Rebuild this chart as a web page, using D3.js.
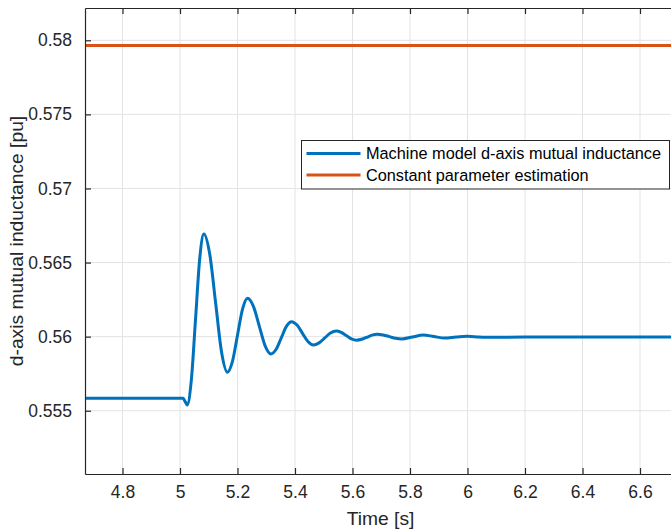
<!DOCTYPE html>
<html>
<head>
<meta charset="utf-8">
<script src="https://cdn.jsdelivr.net/npm/d3@7/dist/d3.min.js"></script>
<style>
html,body{margin:0;padding:0;background:#fff;}
svg{display:block;font-family:"Liberation Sans",Arial,Helvetica,sans-serif;}
</style>
</head>
<body>
<svg id="chart" width="671" height="532"></svg>
<script>
// ---- data ----
const xTicks = [4.8, 5, 5.2, 5.4, 5.6, 5.8, 6, 6.2, 6.4, 6.6];
const yTicks = [0.555, 0.56, 0.565, 0.57, 0.575, 0.58];
const xTickLabels = ["4.8","5","5.2","5.4","5.6","5.8","6","6.2","6.4","6.6"];
const yTickLabels = ["0.555","0.56","0.565","0.57","0.575","0.58"];
const seriesNames = ["Machine model d-axis mutual inductance", "Constant parameter estimation"];
const modelTime = [4.67, 5.0, 5.011, 5.018, 5.025, 5.0395, 5.054, 5.0685, 5.083,
  5.1035, 5.124, 5.1445, 5.165, 5.1825, 5.2, 5.2175, 5.235,
  5.2554, 5.2758, 5.2961, 5.3165, 5.3344, 5.3523, 5.3701, 5.388,
  5.407, 5.426, 5.445, 5.464, 5.4838, 5.5035, 5.5233, 5.543,
  5.5608, 5.5785, 5.5963, 5.614, 5.632, 5.65, 5.668, 5.686,
  5.7073, 5.7285, 5.7498, 5.771, 5.8085, 5.846, 5.883, 5.92, 5.96, 6.0, 6.04, 6.08, 6.2, 6.73];
const modelValue = [0.55584, 0.55584, 0.55584, 0.555615, 0.55539, 0.55708, 0.56116, 0.56524, 0.56693,
  0.56556, 0.56227, 0.55897, 0.55760, 0.55833, 0.56010, 0.56186, 0.56259,
  0.56204, 0.56071, 0.55938, 0.55883, 0.55915, 0.55992, 0.56069, 0.56101,
  0.56078, 0.560225, 0.55967, 0.55944, 0.55958, 0.55991, 0.56024, 0.56038,
  0.56029, 0.56007, 0.55985, 0.55976, 0.55982, 0.55996, 0.56010, 0.56016,
  0.56011, 0.56000, 0.55989, 0.55984, 0.559975, 0.56011, 0.56001, 0.55991, 0.55997, 0.56002, 0.55998, 0.55996, 0.55997, 0.55997];
const constTime = [4.67, 6.73];
const constValue = [0.57965, 0.57965];

// ---- layout ----
const svg = d3.select("#chart");
const L = 85, T = 8, R = 676, B = 474;
const x = d3.scaleLinear().domain([4.6696, 6.7252]).range([L, R]);
const y = d3.scaleLinear().domain([0.55073, 0.58218]).range([B, T]);
const axisColor = "#262626";
const colors = ["#0072BD", "#D95319"];

svg.append("defs").append("clipPath").attr("id","clip")
  .append("rect").attr("x",L).attr("y",T).attr("width",R-L).attr("height",B-T);

// grid
const g = svg.append("g");
g.selectAll(".gx").data(xTicks).join("line")
  .attr("x1", d=>x(d)).attr("x2", d=>x(d)).attr("y1", T).attr("y2", B)
  .attr("stroke", "#e3e3e3").attr("stroke-width", 1);
g.selectAll(".gy").data(yTicks).join("line")
  .attr("x1", L).attr("x2", R).attr("y1", d=>y(d)).attr("y2", d=>y(d))
  .attr("stroke", "#e3e3e3").attr("stroke-width", 1);

// data lines
const plot = svg.append("g").attr("clip-path","url(#clip)");
const line = d3.line().x(d=>x(d[0])).y(d=>y(d[1])).curve(d3.curveMonotoneX);
plot.append("path").datum(constTime.map((t,i)=>[t,constValue[i]]))
  .attr("d", line).attr("fill","none").attr("stroke",colors[1]).attr("stroke-width",3);
plot.append("path").datum(modelTime.map((t,i)=>[t,modelValue[i]]))
  .attr("d", line).attr("fill","none").attr("stroke",colors[0]).attr("stroke-width",3)
  .attr("stroke-linejoin","round");

// axes
const xAxis = d3.axisBottom(x).tickValues(xTicks).tickFormat((d,i)=>xTickLabels[i]).tickSizeInner(-6).tickSizeOuter(0).tickPadding(12);
const yAxis = d3.axisLeft(y).tickValues(yTicks).tickFormat((d,i)=>yTickLabels[i]).tickSizeInner(-6).tickSizeOuter(0).tickPadding(13);
const xTop = d3.axisTop(x).tickValues(xTicks).tickFormat("").tickSizeInner(-6).tickSizeOuter(0);

function style(sel){
  sel.select(".domain").attr("stroke", axisColor).attr("stroke-width", 1.2);
  sel.selectAll(".tick line").attr("stroke", axisColor).attr("stroke-width", 1.2);
  sel.selectAll(".tick text").attr("fill", axisColor).style("font-size","17.5px");
}
svg.append("g").attr("transform",`translate(0,${B})`).call(xAxis).call(style);
svg.append("g").attr("transform",`translate(${L},0)`).call(yAxis).call(style);
svg.append("g").attr("transform",`translate(0,${T})`).call(xTop).call(style);

// axis labels
svg.append("text").attr("x", (L+R)/2).attr("y", 524.5).attr("text-anchor","middle")
  .attr("fill", axisColor).style("font-size","19.25px").text("Time [s]");
svg.append("text").attr("transform",`translate(23,${(T+B)/2}) rotate(-90)`).attr("text-anchor","middle")
  .attr("fill", axisColor).style("font-size","19.25px").text("d-axis mutual inductance [pu]");

// legend
const leg = svg.append("g");
leg.append("rect").attr("x",301.5).attr("y",140.5).attr("width",368).attr("height",48.5)
  .attr("fill","#fff").attr("stroke",axisColor).attr("stroke-width",1);
const rowsY = [153.5, 175];
seriesNames.forEach((name,i)=>{
  leg.append("line").attr("x1",306.5).attr("x2",360.5).attr("y1",rowsY[i]).attr("y2",rowsY[i])
    .attr("stroke",colors[i]).attr("stroke-width",3);
  leg.append("text").attr("x",366).attr("y",rowsY[i]).attr("dy","0.36em")
    .attr("fill","#000").style("font-size","16.3px").text(name);
});
</script>
</body>
</html>
